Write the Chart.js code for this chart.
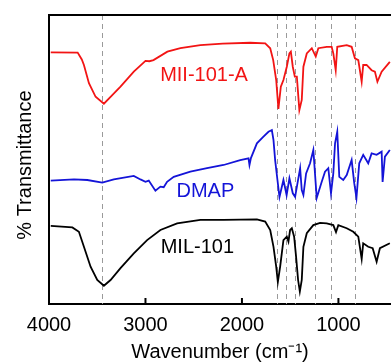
<!DOCTYPE html>
<html>
<head>
<meta charset="utf-8">
<script src="https://cdn.jsdelivr.net/npm/chart.js@4.4.0/dist/chart.umd.min.js"></script>
<style>
  body { margin: 0; background: #fff; }
  #wrap { width: 391px; height: 362px; }
</style>
</head>
<body>
<div id="wrap"><canvas id="ftir" width="391" height="362"></canvas></div>
<script>
// series (wavenumber in cm-1, transmittance in offset units 0-100)
const miiWavenumber = [3982, 3703, 3660, 3638, 3586, 3517, 3431, 3362, 3259, 3121, 3000, 2960, 2917, 2773, 2638, 2431, 2200, 1914, 1759, 1707, 1676, 1645, 1622, 1597, 1570, 1535, 1508, 1493, 1473, 1452, 1431, 1405, 1380, 1363, 1328, 1276, 1235, 1208, 1121, 1070, 1053, 1028, 1012, 914, 863, 829, 794, 759, 743, 708, 656, 622, 596, 552, 467];
const miiTransmittance = [87.1, 87.0, 84.6, 82.7, 76.4, 71.7, 69.3, 71.7, 75.2, 80.4, 84.1, 84.0, 84.4, 87.3, 88.5, 89.6, 90.1, 90.4, 90.2, 88.5, 84.4, 77.5, 67.5, 75.2, 77.5, 82.1, 86.7, 87.3, 82.1, 78.7, 78.7, 67.1, 70.6, 82.1, 86.7, 88.5, 85.6, 88.5, 89.0, 89.0, 86.7, 80.9, 89.0, 89.6, 89.0, 85.0, 84.4, 76.9, 82.7, 82.7, 80.9, 80.4, 76.9, 80.4, 83.8];

const dmapWavenumber = [3982, 3741, 3603, 3448, 3328, 3121, 3052, 3000, 2966, 2897, 2845, 2811, 2776, 2707, 2535, 2362, 2190, 2018, 1932, 1922, 1907, 1845, 1777, 1725, 1690, 1673, 1656, 1632, 1611, 1570, 1537, 1508, 1473, 1449, 1397, 1380, 1363, 1335, 1294, 1260, 1225, 1173, 1139, 1105, 1077, 1053, 1035, 1012, 991, 950, 914, 863, 836, 813, 784, 743, 691, 656, 604, 552, 542, 518, 467];
const dmapTransmittance = [42.7, 43.1, 42.9, 42.0, 43.1, 44.3, 43.1, 42.3, 42.7, 39.2, 40.6, 40.4, 42.3, 44.0, 45.8, 47.0, 48.1, 49.8, 50.4, 48.1, 50.5, 55.6, 57.9, 59.6, 60.2, 56.7, 49.8, 42.9, 37.0, 42.9, 37.7, 43.5, 38.3, 37.1, 47.0, 39.4, 37.7, 45.2, 48.7, 53.3, 36.7, 42.3, 45.8, 47.0, 38.3, 45.2, 55.6, 59.6, 44.0, 42.9, 44.6, 49.8, 41.8, 36.7, 48.7, 51.6, 48.7, 52.1, 51.6, 52.7, 42.2, 51.0, 53.3];

const milWavenumber = [3982, 3758, 3690, 3638, 3569, 3500, 3431, 3362, 3259, 3121, 2983, 2845, 2672, 2431, 2190, 1845, 1759, 1707, 1673, 1645, 1628, 1604, 1570, 1535, 1518, 1501, 1483, 1459, 1439, 1418, 1400, 1380, 1363, 1328, 1260, 1190, 1121, 1053, 1025, 1001, 914, 846, 794, 759, 743, 691, 645, 604, 570, 467];
const milTransmittance = [27.0, 26.5, 25.0, 19.8, 12.9, 8.3, 6.3, 8.3, 12.4, 17.5, 22.1, 25.6, 27.9, 29.1, 29.1, 29.3, 28.5, 25.6, 19.8, 12.9, 7.6, 12.9, 22.1, 23.3, 21.6, 25.6, 26.2, 23.3, 16.4, 8.3, 4.3, 8.3, 19.8, 24.5, 27.3, 28.1, 27.9, 27.3, 24.9, 27.3, 26.2, 25.0, 23.3, 15.6, 21.0, 19.8, 19.3, 14.6, 19.3, 21.0];

const seriesNames = ["MII-101-A", "DMAP", "MIL-101"];
const peakLines = [3450, 1635, 1540, 1455, 1240, 1075, 825];
const xTicks = [4000, 3000, 2000, 1000];
// where each series name sits, in data units
const nameAt = [[2393, 79.0], [2379, 38.9], [2462, 19.4]];

const colors = ["#f21414", "#1414d8", "#000000"];
const FONT = "'Liberation Sans', Arial, sans-serif";

function toPoints(xs, ys) {
  return xs.map((x, i) => ({ x: x, y: ys[i] }));
}

const extras = {
  id: "extras",
  beforeDatasetsDraw(chart) {
    const { ctx, chartArea } = chart;
    const xs = chart.scales.x;
    ctx.save();
    ctx.strokeStyle = "#9a9a9a";
    ctx.lineWidth = 1;
    ctx.setLineDash([5, 4]);
    peakLines.forEach((w) => {
      const px = Math.round(xs.getPixelForValue(w)) + 0.5;
      ctx.beginPath();
      ctx.moveTo(px, chartArea.top);
      ctx.lineTo(px, chartArea.bottom);
      ctx.stroke();
    });
    ctx.restore();
  },
  afterDraw(chart) {
    const { ctx, chartArea } = chart;
    const xs = chart.scales.x;
    const ys = chart.scales.y;
    ctx.save();
    // top frame
    ctx.strokeStyle = "#000";
    ctx.lineWidth = 2;
    ctx.beginPath();
    ctx.moveTo(chartArea.left - 1, chartArea.top);
    ctx.lineTo(chartArea.right, chartArea.top);
    ctx.stroke();
    // inward ticks
    xTicks.slice(1).forEach((w) => {
      const px = xs.getPixelForValue(w);
      ctx.beginPath();
      ctx.moveTo(px, chartArea.bottom);
      ctx.lineTo(px, chartArea.bottom - 6);
      ctx.stroke();
    });
    // series names
    ctx.font = "20px " + FONT;
    ctx.textAlign = "center";
    ctx.textBaseline = "middle";
    seriesNames.forEach((name, i) => {
      ctx.fillStyle = colors[i];
      ctx.fillText(name, xs.getPixelForValue(nameAt[i][0]), ys.getPixelForValue(nameAt[i][1]));
    });
    ctx.restore();
  }
};

new Chart("ftir", {
  type: "line",
  data: {
    datasets: [
      { label: seriesNames[0], data: toPoints(miiWavenumber, miiTransmittance), borderColor: colors[0] },
      { label: seriesNames[1], data: toPoints(dmapWavenumber, dmapTransmittance), borderColor: colors[1] },
      { label: seriesNames[2], data: toPoints(milWavenumber, milTransmittance), borderColor: colors[2] }
    ]
  },
  options: {
    responsive: false,
    animation: false,
    layout: { padding: { top: 15, right: 0, left: 0, bottom: 0 } },
    elements: {
      line: { borderWidth: 1.8, tension: 0, fill: false },
      point: { radius: 0 }
    },
    plugins: { legend: { display: false }, tooltip: { enabled: false } },
    scales: {
      x: {
        type: "linear",
        reverse: true,
        min: 455,
        max: 4000,
        afterBuildTicks: (scale) => { scale.ticks = xTicks.map((v) => ({ value: v })); },
        afterFit: (scale) => { scale.height = 58; },
        grid: { display: false, drawTicks: false },
        border: { color: "#000", width: 2 },
        ticks: {
          color: "#000",
          font: { family: FONT, size: 20, lineHeight: 1.2 },
          padding: 9,
          maxRotation: 0,
          autoSkip: false,
          callback: (v) => String(v)
        },
        title: {
          display: true,
          text: "Wavenumber (cm\u207B\u00B9)",
          color: "#000",
          font: { family: FONT, size: 20, lineHeight: 1 },
          padding: { top: 0, bottom: 0 }
        }
      },
      y: {
        min: 0,
        max: 100,
        afterFit: (scale) => { scale.width = 49; },
        grid: { display: false, drawTicks: false },
        border: { color: "#000", width: 2 },
        ticks: { display: false },
        title: {
          display: true,
          text: "% Transmittance  ",
          color: "#000",
          font: { family: FONT, size: 20, lineHeight: 1 },
          padding: { top: 15, bottom: 0 }
        }
      }
    }
  },
  plugins: [extras]
});
</script>
</body>
</html>
